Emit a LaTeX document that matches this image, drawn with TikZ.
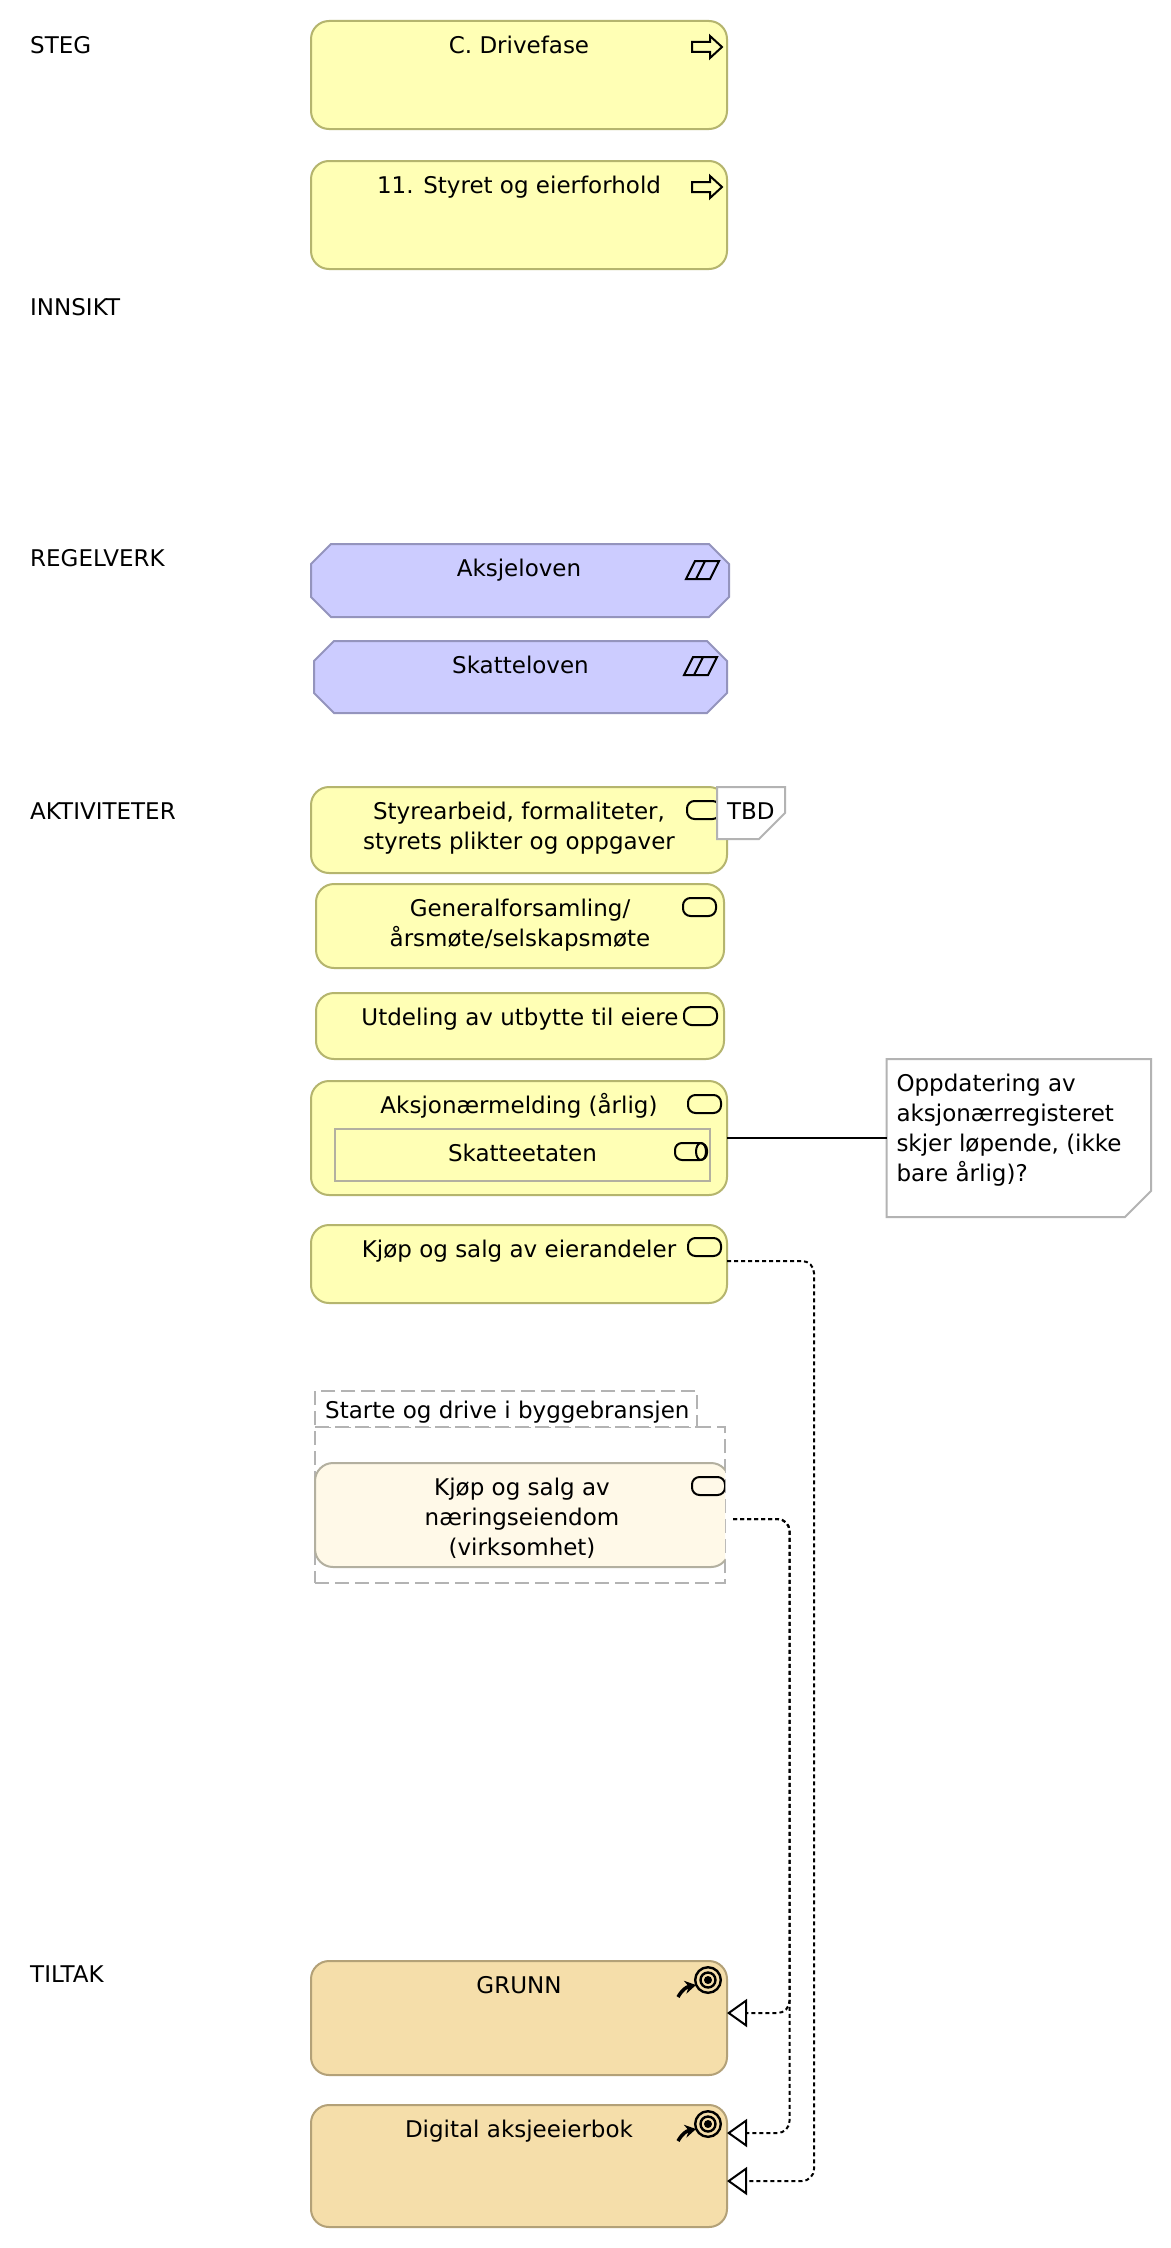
\documentclass[tikz,border=0pt]{standalone}
\usepackage{fontspec}
\setmainfont{DejaVu Sans}
\usetikzlibrary{arrows.meta,calc}
\definecolor{yfill}{HTML}{FFFFB5}
\definecolor{ydraw}{HTML}{B5B56E}
\definecolor{bfill}{HTML}{CCCCFF}
\definecolor{bdraw}{HTML}{9494BD}
\definecolor{tfill}{HTML}{F5DEAA}
\definecolor{tdraw}{HTML}{B3A178}
\definecolor{cfill}{HTML}{FFF9E8}
\definecolor{cdraw}{HTML}{B3B0A0}
\definecolor{ndraw}{HTML}{B3B3B3}
\newcommand{\ctext}[3]{\parbox[c][#2pt][t]{#1pt}{\centering\rule{0pt}{32.5pt}#3}}
\newcommand{\ltext}[3]{\parbox[c][#2pt][t]{#1pt}{\raggedright\leftskip=10pt\rule{0pt}{32.5pt}#3}}
% outline of a law box: x, y, w, h, chamfer 20
\newcommand{\lawshape}[4]{\draw[lawline] (#1+20,#2) -- (#1+#3-20,#2) -- (#1+#3,#2+20) -- (#1+#3,#2+#4-20) -- (#1+#3-20,#2+#4) -- (#1+20,#2+#4) -- (#1,#2+#4-20) -- (#1,#2+20) -- cycle;}
% outline of a note: x, y, w, h, cut corner size
\newcommand{\noteshape}[5]{\draw[noteline] (#1,#2) -- (#1+#3,#2) -- (#1+#3,#2+#4-#5) -- (#1+#3-#5,#2+#4) -- (#1,#2+#4) -- cycle;}
\newcommand{\svcicon}[2]{\draw[iconline,rounded corners=7.5pt] (#1,#2) rectangle +(33,18);}
\newcommand{\stepicon}[2]{\draw[iconline,line join=miter] (#1,#2+6) -- ++(18,0) -- ++(0,-6) -- ++(12,11) -- ++(-12,11) -- ++(0,-6) -- ++(-18,0) -- cycle;}
\newcommand{\lawicon}[2]{\draw[iconline,line join=miter] (#1,#2+18) -- ++(9,-18) -- ++(24,0) -- ++(-9,18) -- cycle (#1+10,#2+18) -- ++(9,-18);}
\newcommand{\goalicon}[2]{%
  \draw[line width=2.4pt] (#1,#2) circle (12.8pt);
  \draw[line width=2.4pt] (#1,#2) circle (7.5pt);
  \fill (#1,#2) circle (4pt);
  \draw[line width=3.5pt,-{Stealth[length=11pt,width=13pt]}] (#1-30,#2+17) .. controls (#1-26,#2+10) and (#1-22,#2+7) .. (#1-12,#2+5);}
\tikzset{
  x=1pt,y=-1pt,
  txt/.style={font=\fontsize{23}{30}\selectfont},
  shapebase/.style={txt,anchor=north west,inner sep=0pt,outer sep=0pt,line width=2pt},
  ybox/.style={shapebase,rectangle,rounded corners=18pt,fill=yfill,draw=ydraw},
  tbox/.style={shapebase,rectangle,rounded corners=18pt,fill=tfill,draw=tdraw},
  cbox/.style={shapebase,rectangle,rounded corners=18pt,fill=cfill,draw=cdraw},
  actor/.style={shapebase,rectangle,fill=yfill,draw=cdraw},
  lawbox/.style={shapebase,rectangle},
  lawline/.style={line width=2pt,fill=bfill,draw=bdraw},
  notebox/.style={shapebase,rectangle},
  noteline/.style={line width=2pt,fill=white,draw=ndraw},
  groupbox/.style={shapebase,rectangle,draw=ndraw,dash pattern=on 14pt off 6pt},
  rowlabel/.style={txt,anchor=base west,inner sep=0pt},
  iconline/.style={draw=black,line width=2pt},
  assoc/.style={draw=black,line width=2pt},
  realize/.style={draw=black,line width=2pt,dash pattern=on 4pt off 3pt,rounded corners=12pt,-{Triangle[open,length=20pt,width=28pt,fill=white]}}
}
\begin{document}
\begin{tikzpicture}
\path[use as bounding box,fill=white] (0,0) rectangle (1170,2248);
% row labels
\node[rowlabel] (lsteg) at (30,53) {STEG};
\node[rowlabel] (linnsikt) at (30,315) {INNSIKT};
\node[rowlabel] (lregel) at (30,566) {REGELVERK};
\node[rowlabel] (lakt) at (30,819) {AKTIVITETER};
\node[rowlabel] (ltiltak) at (30,1982) {TILTAK};
% steps
\node[ybox] (drive) at (311,21) {\ctext{416}{108}{C. Drivefase}};
\stepicon{692}{36}
\node[ybox] (styret) at (311,161) {\ctext{416}{108}{11. Styret og eierforhold}};
\stepicon{692}{176}
% laws
\lawshape{311}{544}{418}{73}
\node[lawbox] (aksje) at (311,544) {\ctext{416}{73}{Aksjeloven}};
\lawicon{686}{561}
\lawshape{314}{641}{413}{72}
\node[lawbox] (skatt) at (314,641) {\ctext{413}{72}{Skatteloven}};
\lawicon{684}{657}
% activities
\node[ybox] (styre) at (311,787) {\ctext{416}{86}{Styrearbeid, formaliteter,\\styrets plikter og oppgaver}};
\svcicon{687}{801}
\noteshape{717}{787}{68}{52}{26}
\node[notebox] (tbd) at (717,787) {\ltext{68}{52}{TBD}};
\node[ybox] (gen) at (316,884) {\ctext{408}{84}{Generalforsamling/\\årsmøte/selskapsmøte}};
\svcicon{683}{898}
\node[ybox] (utd) at (316,993) {\ctext{408}{66}{Utdeling av utbytte til eiere}};
\svcicon{684}{1007}
\node[ybox] (aksjon) at (311,1081) {\ctext{416}{114}{Aksjonærmelding (årlig)}};
\svcicon{688}{1095}
\node[actor] (setaten) at (335,1129) {\ctext{375}{52}{Skatteetaten}};
\draw[iconline,rounded corners=7pt] (675,1143) rectangle +(32,17);
\draw[iconline] (701,1151.5) ellipse (5pt and 8.5pt);
\noteshape{886.5}{1059}{264.5}{158}{26}
\node[notebox] (note) at (886.5,1059) {\ltext{264.5}{158}{Oppdatering av\\aksjonærregisteret\\skjer løpende, (ikke\\bare årlig)?}};
\node[ybox] (kjop) at (311,1225) {\ctext{416}{78}{Kjøp og salg av eierandeler}};
\svcicon{688}{1238}
% group
\node[groupbox,minimum width=410pt,minimum height=156pt] (gbody) at (315,1427) {};
\node[groupbox,fill=white,minimum width=382pt,minimum height=36pt] (gtab) at (315,1391) {};
\node[txt,anchor=base west,inner sep=0pt] (gtabtext) at (325,1418) {Starte og drive i byggebransjen};
\begin{scope}
\clip (300,1440) rectangle (725,1580);
\node[cbox] (naering) at (315,1463) {\ctext{414}{104}{Kjøp og salg av\\næringseiendom\\(virksomhet)}};
\svcicon{692}{1477}
\end{scope}
% measures
\node[tbox] (grunn) at (311,1961) {\ctext{416}{114}{GRUNN}};
\goalicon{708}{1980}
\node[tbox] (digital) at (311,2105) {\ctext{416}{122}{Digital aksjeeierbok}};
\goalicon{708}{2124}
% connectors
\coordinate (busa) at (789.5,1600);
\coordinate (busb) at (814,1600);
\draw[assoc] (aksjon.east) -- (note.west);
\coordinate (s1) at ([yshift=-4pt,xshift=4pt]naering.east);
\coordinate (s2) at ([yshift=3pt]kjop.east);
\coordinate (t1) at ([yshift=5pt]grunn.east);
\coordinate (t2) at ([yshift=33pt]digital.east);
\coordinate (t3) at ([yshift=-15pt]digital.east);
\draw[realize] (s1) -- (s1 -| busa) -- (busa |- t1) -- (t1);
\draw[realize] (s1) -- (s1 -| busa) -- (busa |- t2) -- (t2);
\draw[realize] (s2) -- (s2 -| busb) -- (busb |- t3) -- (t3);
\end{tikzpicture}
\end{document}
